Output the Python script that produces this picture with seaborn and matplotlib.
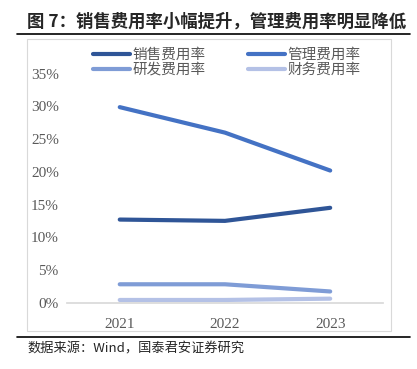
import seaborn as sns
import matplotlib.pyplot as plt
import pandas as pd
from matplotlib.lines import Line2D
from matplotlib.patches import Rectangle

years = ['2021', '2022', '2023']
series_names = ['销售费用率', '管理费用率', '研发费用率', '财务费用率']
sales_rate = [12.7, 12.5, 14.5]
admin_rate = [29.9, 26.0, 20.2]
rd_rate = [2.8, 2.8, 1.7]
fin_rate = [0.4, 0.4, 0.6]
colors = ['#2F5597', '#4472C4', '#7F9CD6', '#B4C1E6']
yticks = [0, 5, 10, 15, 20, 25, 30, 35]

df = pd.DataFrame({'year': years * 4,
                   'series': [s for s in series_names for _ in years],
                   'value': sales_rate + admin_rate + rd_rate + fin_rate})

sns.set_theme(style='white')
plt.rcParams['font.family'] = ['Liberation Serif', 'Noto Sans CJK SC']
cjk = ['Noto Sans CJK SC', 'DejaVu Sans']

fig = plt.figure(figsize=(4.17, 3.69), dpi=100)
ax = fig.add_axes([0.161, 0.18, 0.757, 0.62])

sns.lineplot(data=df, x='year', y='value', hue='series', palette=colors,
             linewidth=3, legend=False, ax=ax, sort=False)

ax.set_xlim(-0.5, 2.5)
ax.set_ylim(0, 35)
ax.set_yticks(yticks)
ax.set_yticklabels([f'{t}%' for t in yticks], fontsize=11, color='#595959')
ax.tick_params(axis='x', labelsize=11, labelcolor='#595959', length=0, pad=11)
ax.tick_params(axis='y', length=0, pad=6)
ax.set_xlabel('')
ax.set_ylabel('')
for side in ['top', 'right', 'left']:
    ax.spines[side].set_visible(False)
ax.spines['bottom'].set_color('#D9D9D9')

# legend fills column by column: reorder so rows read sales/admin, rd/fin
handles = [Line2D([0], [0], color=c, lw=3) for c in colors]
order = [0, 2, 1, 3]
fig.legend([handles[i] for i in order], [series_names[i] for i in order],
           loc='upper left', bbox_to_anchor=(0.21, 0.885),
           ncol=2, frameon=False, prop={'family': cjk, 'size': 10.5},
           handlelength=2.5, handletextpad=0.2, columnspacing=2.9,
           labelspacing=0.05, labelcolor='#595959', borderaxespad=0)

# chart border
fig.patches.append(Rectangle((0.065, 0.103), 0.873, 0.791, transform=fig.transFigure,
                             fill=False, edgecolor='#D9D9D9', lw=0.8))

fig.text(0.065, 0.942, '图 7：销售费用率小幅提升，管理费用率明显降低', family=cjk,
         fontsize=12.5, fontweight='bold', va='center')
fig.add_artist(Line2D([0.04, 0.983], [0.908, 0.908], color='black', lw=1.2,
                      transform=fig.transFigure))
fig.add_artist(Line2D([0.04, 0.983], [0.087, 0.087], color='black', lw=1.2,
                      transform=fig.transFigure))
fig.text(0.065, 0.054, '数据来源：Wind，国泰君安证券研究', family=cjk,
         fontsize=9.5, va='center')

fig.savefig('out.png', dpi=100)
